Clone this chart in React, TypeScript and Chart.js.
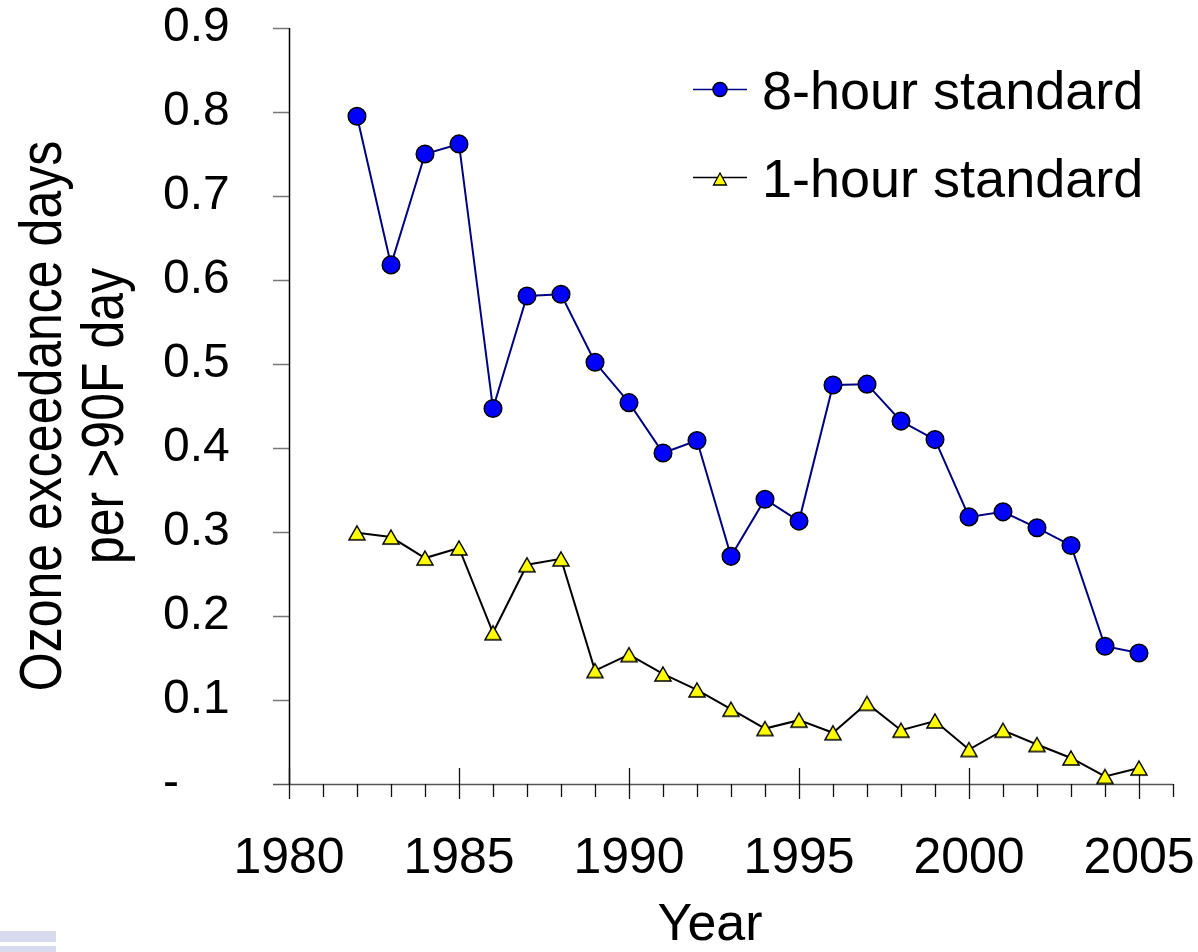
import React, { useEffect, useRef } from 'react';
import { Chart, registerables } from 'chart.js';

Chart.register(...registerables);

// Annual ozone exceedance rates, 1982–2005
const years = [
  1982, 1983, 1984, 1985, 1986, 1987, 1988, 1989, 1990, 1991, 1992, 1993,
  1994, 1995, 1996, 1997, 1998, 1999, 2000, 2001, 2002, 2003, 2004, 2005,
];
const eightHour = [
  0.795, 0.618, 0.75, 0.762, 0.447, 0.581, 0.583, 0.502, 0.454, 0.394, 0.409, 0.271,
  0.339, 0.313, 0.475, 0.476, 0.432, 0.41, 0.318, 0.324, 0.305, 0.284, 0.164, 0.156,
];
const oneHour = [
  0.299, 0.294, 0.269, 0.281, 0.18, 0.261, 0.268, 0.135, 0.154, 0.131, 0.112, 0.089,
  0.066, 0.076, 0.061, 0.096, 0.064, 0.075, 0.041, 0.064, 0.047, 0.031, 0.009, 0.019,
];
const seriesNames = ['8-hour standard', '1-hour standard'];
const yTitleLines = ['Ozone exceedance days', 'per >90F day'];
const xTitle = 'Year';
const xRange = [1980, 2006];
const yRange = [0, 0.9];

const FONT = '"Liberation Sans", Arial, Helvetica, sans-serif';

function drawTriangle(ctx: CanvasRenderingContext2D, cx: number, cy: number, w: number, h: number, lw: number) {
  ctx.beginPath();
  ctx.moveTo(cx, cy - h / 2);
  ctx.lineTo(cx + w / 2, cy + h / 2);
  ctx.lineTo(cx - w / 2, cy + h / 2);
  ctx.closePath();
  ctx.fillStyle = '#ffff00';
  ctx.fill();
  ctx.lineWidth = lw;
  ctx.strokeStyle = '#000';
  ctx.lineJoin = 'miter';
  ctx.stroke();
}

function makeTriangleMarker(): HTMLCanvasElement {
  const c = document.createElement('canvas');
  c.width = 20;
  c.height = 18;
  const ctx = c.getContext('2d')!;
  drawTriangle(ctx, 10, 9, 16, 14, 1.5);
  return c;
}

// Axis lines and tick marks (minor every year, major every five years)
const axesPlugin = {
  id: 'axesLines',
  beforeDatasetsDraw(chart: any) {
    const { ctx, chartArea, scales } = chart;
    const xs = scales.x;
    const ys = scales.y;
    const x0 = chartArea.left;
    const y0 = chartArea.bottom;
    ctx.save();
    // y ticks
    ctx.strokeStyle = '#777';
    ctx.lineWidth = 1.5;
    for (let i = 1; i <= 9; i++) {
      const py = Math.round(ys.getPixelForValue(i / 10)) + 0.5;
      ctx.beginPath();
      ctx.moveTo(x0 - 16, py);
      ctx.lineTo(x0, py);
      ctx.stroke();
    }
    // x axis line
    ctx.strokeStyle = '#555';
    ctx.beginPath();
    ctx.moveTo(x0 - 16, y0 + 0.5);
    ctx.lineTo(chartArea.right, y0 + 0.5);
    ctx.stroke();
    // y axis line
    ctx.strokeStyle = '#000';
    ctx.lineWidth = 1.5;
    ctx.beginPath();
    ctx.moveTo(x0 + 0.5, chartArea.top);
    ctx.lineTo(x0 + 0.5, y0);
    ctx.stroke();
    // x ticks
    ctx.lineWidth = 1.3;
    for (let yr = xRange[0]; yr <= xRange[1]; yr++) {
      const px = Math.round(xs.getPixelForValue(yr)) + 0.5;
      const major = yr % 5 === 0;
      ctx.strokeStyle = '#111';
      ctx.beginPath();
      ctx.moveTo(px, major ? y0 - 16 : y0);
      ctx.lineTo(px, major ? y0 + 15 : y0 + 13);
      ctx.stroke();
    }
    ctx.restore();
  },
};

// Titles, legend and the small decoration in the lower-left corner
const textPlugin = {
  id: 'textDecor',
  afterDraw(chart: any) {
    const { ctx } = chart;
    ctx.save();
    ctx.fillStyle = '#d8dbee';
    ctx.fillRect(0, 931, 56, 11);
    ctx.fillRect(0, 946, 56, 6);

    // y title, two rotated lines
    ctx.fillStyle = '#000';
    ctx.textAlign = 'center';
    ctx.textBaseline = 'alphabetic';
    ctx.font = `50px ${FONT}`;
    const cy = 416;
    const baselines = [61, 123];
    yTitleLines.forEach((line, i) => {
      ctx.save();
      ctx.translate(baselines[i], cy);
      ctx.rotate(-Math.PI / 2);
      ctx.scale(1, 1.2);
      ctx.fillText(line, 0, 0);
      ctx.restore();
    });

    // x title
    ctx.font = `52px ${FONT}`;
    ctx.textAlign = 'center';
    ctx.fillText(xTitle, 710, 940);

    // legend
    ctx.font = `54px ${FONT}`;
    ctx.textAlign = 'left';
    const lx0 = 693;
    const lx1 = 747;
    const lcx = 720;
    // 8-hour entry
    ctx.strokeStyle = '#000080';
    ctx.lineWidth = 1.5;
    ctx.beginPath();
    ctx.moveTo(lx0, 89.5);
    ctx.lineTo(lx1, 89.5);
    ctx.stroke();
    ctx.beginPath();
    ctx.arc(lcx, 89.5, 7, 0, Math.PI * 2);
    ctx.fillStyle = '#0000ff';
    ctx.fill();
    ctx.strokeStyle = '#000';
    ctx.lineWidth = 1.5;
    ctx.stroke();
    ctx.fillStyle = '#000';
    ctx.fillText(seriesNames[0], 762, 109);
    // 1-hour entry
    ctx.strokeStyle = '#000';
    ctx.lineWidth = 1.5;
    ctx.beginPath();
    ctx.moveTo(lx0, 177.5);
    ctx.lineTo(lx1, 177.5);
    ctx.stroke();
    drawTriangle(ctx, lcx, 179, 13, 12, 1.3);
    ctx.fillStyle = '#000';
    ctx.fillText(seriesNames[1], 762, 197);
    ctx.restore();
  },
};

export default function App() {
  const ref = useRef<HTMLCanvasElement>(null);

  useEffect(() => {
    if (!ref.current) return;
    const tri = makeTriangleMarker();
    const chart = new Chart(ref.current, {
      type: 'line',
      data: {
        datasets: [
          {
            label: seriesNames[0],
            data: years.map((x, i) => ({ x, y: eightHour[i] })),
            borderColor: '#000080',
            borderWidth: 2,
            pointStyle: 'circle',
            pointRadius: 8.8,
            pointBackgroundColor: '#0000ff',
            pointBorderColor: '#000',
            pointBorderWidth: 1.5,
            tension: 0,
            clip: false,
          },
          {
            label: seriesNames[1],
            data: years.map((x, i) => ({ x, y: oneHour[i] })),
            borderColor: '#000',
            borderWidth: 2,
            pointStyle: tri,
            pointRadius: 9,
            pointBackgroundColor: '#ffff00',
            pointBorderColor: '#000',
            tension: 0,
            clip: false,
          },
        ],
      },
      options: {
        responsive: false,
        animation: false,
        devicePixelRatio: 1,
        layout: { padding: { left: 163, top: 28, right: 25, bottom: 0 }, autoPadding: false },
        plugins: {
          legend: { display: false },
          tooltip: { enabled: false },
        },
        scales: {
          x: {
            type: 'linear',
            min: xRange[0],
            max: xRange[1],
            grid: {
              display: true,
              drawOnChartArea: false,
              drawTicks: true,
              tickLength: 45,
              color: 'rgba(0,0,0,0)',
            },
            border: { display: false },
            ticks: {
              stepSize: 1,
              autoSkip: false,
              maxRotation: 0,
              minRotation: 0,
              padding: 0,
              color: '#000',
              font: { family: FONT, size: 50 },
              callback: (v: any) => (Number(v) % 5 === 0 && Number(v) <= 2005 ? String(v) : ''),
            },
            afterFit: (s: any) => {
              s.height = 168;
            },
          },
          y: {
            min: yRange[0],
            max: yRange[1],
            grid: { display: false, drawTicks: false },
            border: { display: false },
            ticks: {
              stepSize: 0.1,
              crossAlign: 'far',
              padding: 0,
              color: '#000',
              font: { family: FONT, size: 48, lineHeight: 1 },
              callback: (v: any) => (Math.abs(Number(v)) < 1e-9 ? '-' : Number(v).toFixed(1)),
            },
            afterFit: (s: any) => {
              s.width = 126;
            },
          },
        },
      },
      plugins: [axesPlugin, textPlugin],
    } as any);
    return () => chart.destroy();
  }, []);

  return (
    <div style={{ position: 'absolute', left: 0, top: 0, width: 1198, height: 952, background: '#fff' }}>
      <canvas ref={ref} width={1198} height={952} style={{ display: 'block' }} />
    </div>
  );
}
